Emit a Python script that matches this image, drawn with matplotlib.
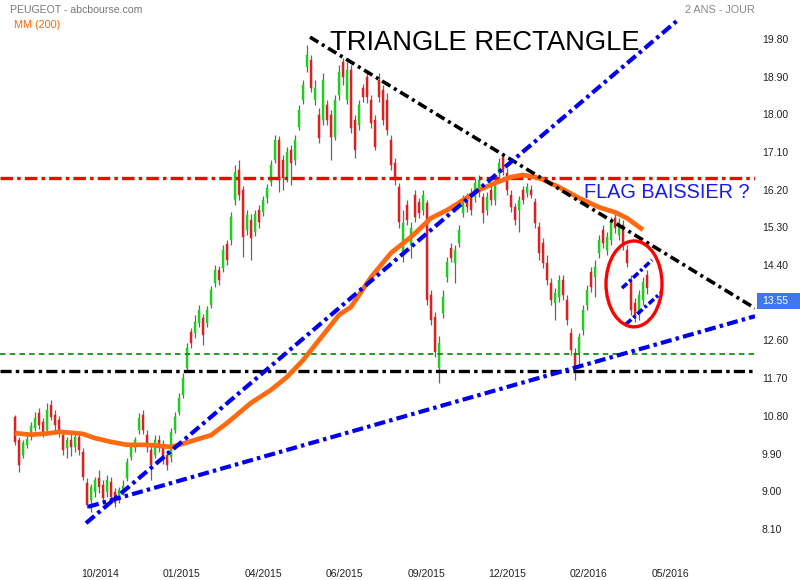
import matplotlib
matplotlib.use('Agg')
import matplotlib.pyplot as plt
from matplotlib.patches import Ellipse, Rectangle
from matplotlib.transforms import blended_transform_factory

plt.rcParams['font.family'] = ['Liberation Sans', 'DejaVu Sans']
plt.rcParams['lines.scale_dashes'] = False

# ---------------- data ----------------
opens = [10.77, 10.23, 9.87, 10.11, 10.32, 10.51, 10.87, 10.65, 10.46, 11.06,
         10.82, 10.70, 10.35, 10.03, 10.23, 10.06, 10.30, 9.94, 9.20, 8.80,
         8.98, 9.32, 9.15, 8.98, 9.22, 8.98, 8.80, 8.98, 9.32, 9.82,
         10.03, 10.46, 10.82, 10.35, 9.99, 9.87, 10.23, 10.11, 9.87, 9.82,
         10.46, 10.89, 11.30, 11.94, 12.80, 12.77, 13.01, 13.13, 13.01, 13.45,
         13.97, 14.28, 14.33, 14.90, 15.00, 15.95, 16.67, 16.19, 15.24, 15.48,
         15.19, 15.72, 15.67, 15.99, 16.38, 16.91, 17.38, 16.91, 16.47, 17.14,
         16.91, 17.69, 18.34, 19.13, 19.29, 18.34, 17.98, 17.86, 18.22, 17.98,
         17.45, 18.46, 19.25, 18.34, 19.05, 17.86, 17.74, 18.62, 18.89, 18.34,
         17.86, 18.82, 18.58, 18.34, 17.38, 16.83, 16.26, 14.64, 15.83, 14.88,
         16.07, 15.90, 15.72, 15.88, 13.68, 13.16, 11.94, 13.25, 14.11, 14.81,
         14.45, 14.92, 15.64, 16.02, 16.12, 16.02, 16.12, 16.02, 15.72, 16.19,
         15.95, 16.60, 16.98, 16.60, 16.07, 15.78, 15.72, 16.19, 16.12, 16.19,
         15.90, 15.31, 14.92, 14.45, 13.97, 13.49, 13.63, 14.04, 13.57, 12.77,
         12.30, 12.30, 12.85, 13.45, 14.23, 14.11, 14.69, 15.24, 14.76, 15.00,
         15.52, 15.12, 15.36, 14.76, 14.04, 13.49, 13.20, 13.57, 14.16]
closes = [10.18, 9.63, 10.16, 10.25, 10.56, 10.75, 10.58, 10.39, 10.94, 10.77,
          10.58, 10.42, 9.99, 10.23, 10.06, 10.30, 9.99, 9.34, 8.67, 9.10,
          9.27, 9.10, 8.84, 9.27, 8.86, 8.72, 9.03, 9.13, 9.70, 10.06,
          10.23, 10.75, 10.46, 10.06, 9.63, 10.23, 10.06, 9.75, 9.63, 10.42,
          10.77, 11.23, 11.71, 12.42, 12.53, 13.04, 13.33, 12.73, 13.33, 13.80,
          14.28, 14.04, 14.76, 14.52, 15.55, 16.62, 16.07, 15.07, 15.60, 15.05,
          15.62, 15.43, 15.95, 16.23, 16.79, 17.38, 16.43, 16.47, 17.09, 16.83,
          17.38, 18.10, 18.70, 19.41, 18.62, 18.62, 17.43, 18.82, 17.86, 17.45,
          18.34, 19.01, 18.89, 19.05, 17.67, 17.14, 18.22, 18.41, 18.41, 17.79,
          17.22, 18.41, 17.86, 17.62, 16.79, 16.43, 15.43, 15.40, 15.48, 15.29,
          15.55, 15.64, 16.07, 13.57, 13.09, 12.32, 12.53, 13.64, 14.47, 14.57,
          14.76, 15.24, 15.95, 15.78, 15.72, 16.36, 16.43, 15.64, 16.02, 15.95,
          16.31, 16.83, 16.67, 16.19, 15.78, 15.48, 15.95, 15.95, 16.26, 16.07,
          15.40, 14.69, 14.44, 14.04, 13.57, 13.73, 14.04, 13.68, 13.09, 12.37,
          11.96, 12.68, 13.33, 13.80, 13.87, 14.35, 15.00, 14.92, 15.07, 15.43,
          15.29, 15.43, 14.88, 14.45, 13.33, 13.16, 13.68, 14.00, 13.85]
highs = [10.82, 10.30, 10.23, 10.35, 10.65, 10.89, 10.99, 10.75, 11.10, 11.18,
         10.94, 10.80, 10.42, 10.30, 10.37, 10.42, 10.42, 10.03, 9.32, 9.18,
         9.34, 9.50, 9.27, 9.39, 9.34, 9.08, 9.10, 9.27, 9.80, 10.15,
         10.30, 10.87, 10.94, 10.46, 10.11, 10.35, 10.35, 10.23, 9.99, 10.51,
         10.89, 11.35, 11.83, 12.53, 12.90, 13.20, 13.45, 13.23, 13.42, 13.90,
         14.40, 14.38, 14.88, 15.00, 15.67, 16.79, 16.91, 16.28, 15.72, 15.62,
         15.72, 15.83, 16.05, 16.33, 16.91, 17.50, 17.48, 17.02, 17.21, 17.26,
         17.50, 18.22, 18.82, 19.65, 19.41, 18.82, 18.15, 18.98, 18.34, 18.10,
         18.46, 19.17, 19.34, 19.25, 19.17, 17.98, 18.34, 18.72, 18.98, 18.46,
         17.98, 18.98, 18.70, 18.50, 17.50, 16.95, 16.36, 15.72, 15.95, 15.43,
         16.19, 16.00, 16.19, 15.95, 13.80, 13.28, 12.70, 13.80, 14.59, 14.92,
         14.88, 15.36, 16.07, 16.12, 16.24, 16.47, 16.55, 16.12, 16.14, 16.31,
         16.47, 16.95, 17.07, 16.71, 16.19, 15.88, 16.05, 16.28, 16.36, 16.31,
         16.00, 15.43, 15.05, 14.64, 14.09, 13.85, 14.16, 14.16, 13.68, 12.89,
         12.42, 12.77, 13.45, 13.92, 14.35, 14.52, 15.12, 15.36, 15.19, 15.55,
         15.64, 15.52, 15.48, 14.88, 14.16, 13.61, 13.80, 14.12, 14.28]
lows = [10.11, 9.46, 9.80, 10.03, 10.23, 10.44, 10.49, 10.30, 10.39, 10.70,
        10.46, 10.30, 9.87, 9.80, 9.84, 9.94, 9.87, 9.27, 8.60, 8.50,
        8.86, 8.96, 8.72, 8.86, 8.80, 8.62, 8.72, 8.91, 9.25, 9.75,
        9.94, 10.37, 10.37, 9.94, 9.27, 9.80, 9.94, 9.65, 9.51, 9.70,
        10.39, 10.82, 11.23, 11.85, 12.42, 12.66, 12.92, 12.49, 12.92, 13.37,
        13.88, 13.92, 14.23, 14.40, 14.88, 15.83, 15.95, 14.59, 15.12, 14.52,
        15.10, 15.29, 15.57, 15.88, 16.28, 16.83, 16.14, 16.19, 16.38, 16.31,
        16.79, 17.62, 18.24, 19.01, 18.53, 18.22, 17.31, 17.74, 17.74, 16.91,
        17.38, 18.34, 18.70, 18.24, 17.55, 16.95, 17.62, 18.29, 18.26, 17.67,
        17.14, 18.29, 17.74, 17.50, 16.67, 16.31, 15.29, 14.47, 15.36, 14.57,
        15.43, 15.52, 15.60, 13.45, 12.97, 12.20, 11.58, 13.13, 14.00, 14.47,
        13.97, 14.83, 15.55, 15.67, 15.60, 15.90, 16.02, 15.40, 15.60, 15.83,
        15.83, 16.47, 16.55, 16.07, 15.67, 15.36, 15.19, 15.86, 16.02, 16.00,
        15.29, 14.52, 14.33, 13.92, 13.45, 13.09, 13.52, 13.57, 12.97, 12.25,
        11.66, 12.01, 12.73, 13.33, 13.75, 13.63, 14.57, 14.81, 14.64, 14.88,
        15.17, 15.00, 14.76, 14.35, 13.21, 13.04, 13.10, 13.45, 13.70]

# 200-day moving average, sampled at candle indices
ma_idx = [0, 4, 9, 11, 15, 17, 20, 24, 28, 33, 39, 41, 49, 53, 59, 64, 68, 72, 76,
          81, 84, 89, 94, 99, 104, 108, 112, 116, 120, 124, 127, 131, 136, 141,
          146, 150, 153, 157]
ma_val = [10.39, 10.35, 10.39, 10.42, 10.39, 10.37, 10.27, 10.18, 10.11, 10.11,
          10.06, 10.11, 10.34, 10.63, 11.11, 11.42, 11.73, 12.13, 12.61, 13.21,
          13.40, 14.11, 14.69, 15.07, 15.52, 15.71, 15.95, 16.19, 16.36, 16.50,
          16.55, 16.48, 16.26, 16.00, 15.78, 15.66, 15.52, 15.24]

# trend lines (candle index, price)
resist_x, resist_y = [73.75, 185.0], [19.84, 13.37]
support_steep_x, support_steep_y = [17.75, 166.0], [8.24, 20.27]
support_flat_x, support_flat_y = [18.25, 185.0], [8.63, 13.18]
flag_up_x, flag_up_y = [151.75, 159.25], [13.85, 14.52]
flag_dn_x, flag_dn_y = [152.75, 161.75], [12.99, 13.76]
red_level = 16.48
green_level = 12.28
black_level = 11.87
last_price = 13.55

ytick_vals = [8.10, 9.00, 9.90, 10.80, 11.70, 12.60, 14.40, 15.30, 16.20, 17.10,
              18.00, 18.90, 19.80]
xtick_labels = ['10/2014', '01/2015', '04/2015', '06/2015', '09/2015', '12/2015',
                '02/2016', '05/2016']

# ---------------- figure ----------------
W, H = 800, 580
fig = plt.figure(figsize=(W / 100, H / 100), dpi=100)
ax = fig.add_axes([0, 30 / H, 755 / W, 550 / H])
ax.set_xlim(-3.75, 185)
ax.set_ylim(7.60, 20.726)
for s in ax.spines.values():
    s.set_visible(False)

GREEN = '#1ed01e'
RED = '#e02020'
xs = list(range(len(opens)))
ax.vlines(xs, lows, highs, color='#666666', lw=0.9, zorder=2)
for x, o, c in zip(xs, opens, closes):
    col = GREEN if c >= o else RED
    ax.bar(x, max(abs(c - o), 0.03), bottom=min(o, c), width=0.72, color=col,
           edgecolor=col, lw=0.3, zorder=3)

# horizontal levels
ax.axhline(red_level, color='#ff0000', lw=2.4, ls=(0, (9, 3, 2.5, 3)), zorder=4)
ax.axhline(green_level, color='#008800', lw=1.2, ls=(0, (4, 3)), zorder=4)
ax.axhline(black_level, color='#000000', lw=2.4, ls=(0, (8, 3, 2.5, 3)), zorder=4)

# moving average
ax.plot(ma_idx, ma_val, color='#ff6a10', lw=3.4, solid_capstyle='butt',
        solid_joinstyle='round', zorder=5)

# trend lines
ax.plot(resist_x, resist_y, color='#000000', lw=2.6, ls=(0, (7, 3, 2.2, 3)), zorder=6)
ax.plot(support_steep_x, support_steep_y, color='#0000ee', lw=3.0,
        ls=(0, (8, 3, 2.5, 3)), zorder=6)
ax.plot(support_flat_x, support_flat_y, color='#0000ee', lw=3.0,
        ls=(0, (8, 3, 2.5, 3)), zorder=6)
ax.plot(flag_up_x, flag_up_y, color='#0000ee', lw=2.6, ls=(0, (5, 2, 2, 2)), zorder=6)
ax.plot(flag_dn_x, flag_dn_y, color='#0000ee', lw=2.6, ls=(0, (5, 2, 2, 2)), zorder=6)

# ellipse around the flag
ax.add_patch(Ellipse((154.75, 13.95), 14.0, 2.05, fill=False, edgecolor='#ff0000',
                     lw=2.4, zorder=7))

# axes ticks
ax.yaxis.tick_right()
ax.set_yticks(ytick_vals)
ax.set_yticklabels(['%.2f' % v for v in ytick_vals])
ax.tick_params(axis='y', length=0, pad=5, labelsize=7.5, labelcolor='#222222')
xt0, xstep = 21.25, 20.375
ax.set_xticks([xt0 + k * xstep for k in range(len(xtick_labels))])
ax.set_xticklabels(xtick_labels)
ax.tick_params(axis='x', length=0, pad=14, labelsize=7.5, labelcolor='#222222')

# last price tag
tr = blended_transform_factory(fig.transFigure, ax.transData)
ax.add_patch(Rectangle((757 / W, last_price - 0.19), 43 / W, 0.38, transform=tr,
                       facecolor='#3f78ea', edgecolor='none', clip_on=False, zorder=8))
ax.text(762 / W, last_price, '%.2f' % last_price, transform=tr, color='white',
        fontsize=7.5, va='center', ha='left', zorder=9)

# texts
fig.text(10 / W, 1 - 10 / H, 'PEUGEOT - abcbourse.com', color='#777777',
         fontsize=7.6, va='center', ha='left')
fig.text(14 / W, 1 - 25 / H, 'MM (200)', color='#ff6600', fontsize=7.8,
         va='center', ha='left')
fig.text(755 / W, 1 - 10 / H, '2 ANS - JOUR', color='#888888', fontsize=7.8,
         va='center', ha='right')
fig.text(330 / W, 1 - 50 / H, 'TRIANGLE RECTANGLE', color='#000000', fontsize=19.7,
         va='baseline', ha='left')
fig.text(584 / W, 1 - 198 / H, 'FLAG BAISSIER ?', color='#1a1aee', fontsize=14.3,
         va='baseline', ha='left')

fig.savefig('out.png', dpi=100)
